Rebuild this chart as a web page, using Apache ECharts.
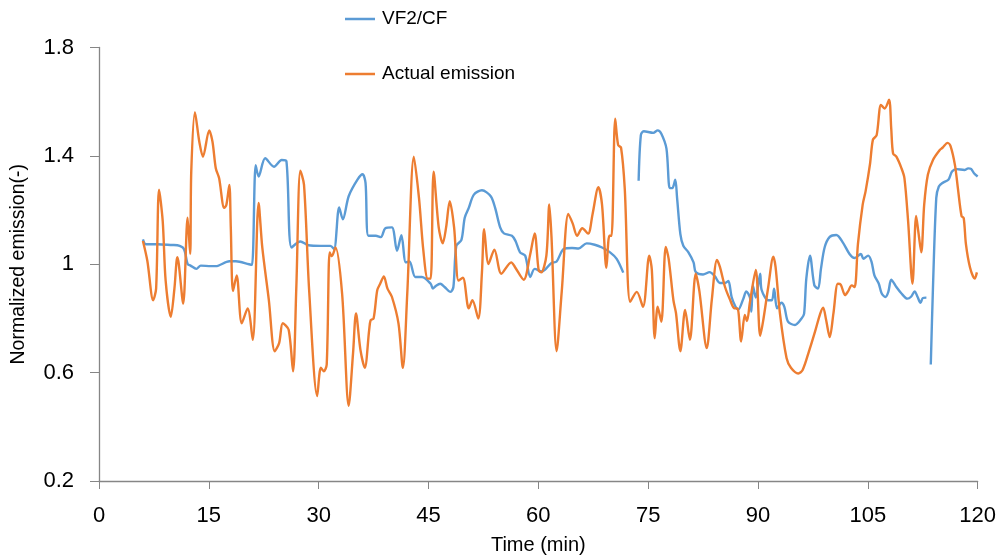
<!DOCTYPE html>
<html>
<head>
<meta charset="utf-8">
<script src="https://cdn.jsdelivr.net/npm/echarts@6/dist/echarts.min.js"></script>
<style>
  html, body { margin: 0; padding: 0; background: #ffffff; }
  #chart { width: 999px; height: 560px; }
</style>
</head>
<body>
<div id="chart"></div>
<script>
// Time axis ticks (min) and normalized emission ticks
const xTicks = [0, 15, 30, 45, 60, 75, 90, 105, 120];
const yTicks = [0.2, 0.6, 1, 1.4, 1.8];

// VF2/CF estimate; null marks a break in the record
const vfTime = [
  6.0, 6.4, 8.0, 10.0, 10.7, 11.6, 12.1, 12.5, 13.3, 13.9, 15.3, 15.95, 17.8, 18.7, 20.5, 20.9,
  21.4, 21.8, 22.7, 23.9, 24.95, 25.6, 26.3, 27.5, 28.6, 30.3, 31.6, 32.1, 32.8, 33.3, 34.1, 35.3,
  36.0, 36.4, 36.8, 37.8, 38.5, 39.1, 40.0, 40.7, 41.3, 41.9, 42.4, 43.2, 44.1, 45.3, 45.6, 46.0,
  46.6, 47.2, 48.0, 48.4, 48.8, 49.5, 49.95, 50.5, 51.2, 52.3, 53.5, 54.1, 54.8, 55.3, 56.4, 56.9,
  57.5, 58.2, 58.9, 59.5, 60.5, 61.8, 62.5, 63.45, 64.6, 65.5, 66.6, 67.7, 68.7, 69.8, 70.7, 71.6,
  72.6,
  73.7, 74.0, 74.4, 75.7, 76.3, 76.8, 77.5, 77.95, 78.3, 78.7, 78.95, 79.4, 79.8, 80.5, 81.2, 81.5,
  82.5, 83.4, 84.1, 84.8, 85.5, 85.95, 86.4, 86.9, 87.3, 88.0, 88.4, 88.9, 89.1, 89.3, 89.7, 90.3,
  90.5, 91.4, 91.9, 92.2, 92.6, 93.2, 93.6, 94.1, 95.05, 95.95, 96.3, 96.6, 97.1, 97.7, 98.2, 98.6,
  99.1, 99.8, 100.7, 101.6, 102.5, 103.2, 104.05, 104.4, 105.05, 105.5, 105.9, 106.5, 106.9, 107.4,
  107.8, 108.2, 108.9, 109.6, 110.4, 110.9, 111.4, 111.8, 112.2, 112.5, 113.0,
  113.3,
  113.6, 113.9, 114.35, 114.7, 115.2, 116.0, 116.5, 117.1, 118.2, 118.7, 119.1, 119.5, 120.0
];
const vfValue = [
  1.092, 1.074, 1.074, 1.071, 1.07, 1.056, 1.001, 0.995, 0.983, 0.995, 0.993, 0.993, 1.011, 1.011, 1.0, 0.998,
  1.366, 1.324, 1.391, 1.36, 1.385, 1.38, 1.062, 1.084, 1.07, 1.068, 1.068, 1.056, 1.21, 1.166, 1.251, 1.312,
  1.332, 1.3, 1.105, 1.105, 1.1, 1.133, 1.136, 1.05, 1.107, 1.007, 1.01, 0.953, 0.953, 0.928, 0.91, 0.92,
  0.928, 0.916, 0.898, 0.916, 1.068, 1.09, 1.172, 1.208, 1.257, 1.273, 1.251, 1.208, 1.135, 1.114, 1.105, 1.085,
  1.044, 1.032, 0.953, 0.983, 0.973, 1.005, 1.01, 1.056, 1.06, 1.058, 1.077, 1.072, 1.062, 1.044, 1.02, 0.969,
  null,
  1.308, 1.476, 1.491, 1.485, 1.494, 1.482, 1.427, 1.281, 1.281, 1.312, 1.245, 1.111, 1.068, 1.044, 1.007, 0.971,
  0.962, 0.971, 0.956, 0.931, 0.931, 0.938, 0.879, 0.845, 0.833, 0.873, 0.9, 0.877, 0.825, 0.922, 0.877, 0.965,
  0.905, 0.867, 0.867, 0.91, 0.837, 0.858, 0.843, 0.788, 0.776, 0.8, 0.818, 0.947, 1.032, 0.922, 0.91, 0.983,
  1.062, 1.101, 1.108, 1.08, 1.038, 1.023, 1.038, 1.02, 1.032, 1.01, 0.959, 0.928, 0.892, 0.879,
  0.898, 0.943, 0.916, 0.892, 0.873, 0.88, 0.9, 0.879, 0.858, 0.875, 0.877,
  null,
  0.63, 0.916, 1.245, 1.287, 1.3, 1.312, 1.342, 1.351, 1.348, 1.354, 1.352, 1.336, 1.324
];

// Measured (actual) emission
const actualTime = [
  6.0, 6.6, 7.4, 7.8, 8.2, 8.7, 9.1, 9.8, 10.3, 10.7, 10.9, 11.5, 12.1, 12.45, 12.6, 13.1,
  13.7, 14.2, 15.05, 15.5, 15.95, 16.4, 17.1, 17.4, 17.8, 18.0, 18.3, 18.8, 19.5, 20.3, 21.0, 21.8,
  22.3, 23.2, 24.0, 24.6, 25.1, 25.9, 26.5, 26.95, 27.5, 28.0, 28.7, 29.8, 30.3, 30.7, 31.1, 31.5,
  31.8, 32.3, 33.2, 34.1, 34.7, 35.1, 35.7, 36.3, 36.9, 37.1, 37.5, 38.0, 38.4, 38.9, 39.4, 40.0,
  40.9, 41.5, 42.1, 43.0, 43.7, 44.3, 44.9, 45.3, 45.7, 46.4, 46.95, 47.4, 47.9, 48.5, 49.1, 49.7,
  50.5, 51.0, 51.8, 52.3, 52.6, 53.2, 54.0, 54.95, 56.3, 56.8, 58.0, 58.9, 59.5, 60.05, 60.4, 61.1,
  61.5, 61.8, 62.5, 63.2, 64.1, 64.7, 65.3, 66.0, 66.8, 67.4, 68.2, 68.7, 69.3, 69.7, 70.0, 70.5,
  70.9, 71.3, 71.8, 72.55, 73.45, 74.3, 75.15, 75.5, 75.9, 76.3, 76.8, 77.4, 77.8, 78.45, 78.8, 79.4,
  80.05, 80.7, 81.5, 82.0, 83.0, 83.7, 84.4, 84.8, 85.5, 86.2, 86.8, 87.2, 87.7, 88.2, 88.5, 88.9,
  89.7, 90.3, 90.7, 91.4, 92.1, 92.4, 93.0, 93.9, 94.5, 95.5, 96.1, 96.9, 97.8, 98.5, 98.9, 99.3,
  99.8, 100.3, 100.9, 101.3, 101.9, 102.3, 102.8, 103.2, 103.65, 104.3, 104.7, 105.3, 105.7, 106.2,
  106.8, 107.3, 107.9, 108.2, 108.45, 108.9, 109.6, 110.0, 110.5, 111.1, 111.6, 111.9, 112.3, 112.7,
  113.2, 113.9, 114.8, 115.2, 115.9, 116.3, 116.9, 117.3, 117.8, 118.1, 118.4, 118.95, 119.6, 119.9
];
const actualValue = [
  1.086, 1.013, 0.867, 0.91, 1.275, 1.16, 0.94, 0.806, 0.91, 1.026, 1.0, 0.855, 1.172, 1.038, 1.342, 1.561,
  1.452, 1.397, 1.494, 1.452, 1.354, 1.318, 1.208, 1.22, 1.293, 1.135, 0.901, 0.959, 0.782, 0.837, 0.721, 1.226,
  1.062, 0.867, 0.679, 0.709, 0.782, 0.758, 0.605, 0.916, 1.345, 1.293, 0.904, 0.514, 0.618, 0.605, 0.63, 1.044,
  1.03, 1.062, 0.892, 0.478, 0.673, 0.818, 0.685, 0.618, 0.758, 0.794, 0.8, 0.904, 0.928, 0.955, 0.91, 0.88,
  0.782, 0.618, 0.892, 1.397, 1.245, 1.05, 0.947, 0.947, 1.342, 1.135, 1.077, 1.135, 1.233, 1.135, 0.94, 0.95,
  0.837, 0.867, 0.8, 0.97, 1.129, 1.001, 1.054, 0.965, 1.007, 0.99, 0.943, 1.038, 1.114, 0.977, 0.97, 1.032,
  1.221, 1.1, 0.679, 0.9, 1.186, 1.15, 1.105, 1.133, 1.113, 1.184, 1.284, 1.22, 0.987, 1.105, 1.105, 1.537,
  1.44, 1.43, 1.281, 0.861, 0.898, 0.843, 1.032, 0.98, 0.727, 0.843, 0.788, 1.064, 1.02, 0.867, 0.82, 0.679,
  0.831, 0.721, 0.965, 0.9, 0.691, 0.87, 1.016, 0.99, 0.916, 0.868, 0.837, 0.837, 0.715, 0.813, 0.79, 0.86,
  0.979, 0.736, 0.79, 0.916, 1.028, 0.99, 0.818, 0.654, 0.618, 0.597, 0.61, 0.673, 0.752, 0.818, 0.84, 0.795,
  0.731, 0.818, 0.928, 0.925, 0.886, 0.9, 0.922, 0.916, 1.074, 1.22, 1.27, 1.37, 1.46, 1.476,
  1.588, 1.575, 1.607, 1.5, 1.409, 1.397, 1.354, 1.318, 1.16, 0.928, 1.178, 1.12, 1.044, 1.22,
  1.33, 1.385, 1.421, 1.43, 1.448, 1.436, 1.366, 1.281, 1.178, 1.17, 1.074, 0.989, 0.947, 0.97
];

const seriesNames = ['VF2/CF', 'Actual emission'];
const seriesColors = ['#5B9BD5', '#ED7D31'];

function pairs(ts, vs) {
  return ts.map((t, i) => [t, vs[i] === null ? '-' : vs[i]]);
}

const font = 'Liberation Sans';
const axisGrey = '#868686';
const chart = echarts.init(document.getElementById('chart'), null, { renderer: 'canvas' });

chart.setOption({
  animation: false,
  backgroundColor: '#ffffff',
  textStyle: { fontFamily: font },
  grid: { left: 99, right: 21, top: 47.5, bottom: 75, containLabel: false },
  legend: {
    orient: 'vertical',
    left: 340,
    top: 4,
    icon: 'rect',
    itemWidth: 30,
    itemHeight: 2.5,
    itemGap: 35,
    data: seriesNames,
    textStyle: { fontFamily: font, fontSize: 19, color: '#000000', lineHeight: 20, padding: [0, 0, 0, 2] }
  },
  xAxis: {
    type: 'value',
    min: xTicks[0],
    max: xTicks[xTicks.length - 1],
    interval: xTicks[1] - xTicks[0],
    name: 'Time (min)',
    nameLocation: 'middle',
    nameGap: 54,
    nameTextStyle: { fontFamily: font, fontSize: 20, color: '#000000' },
    splitLine: { show: false },
    axisLine: { show: true, onZero: false, lineStyle: { color: axisGrey, width: 1.3 } },
    axisTick: { show: true, inside: false, length: 8, lineStyle: { color: axisGrey } },
    axisLabel: { fontFamily: font, fontSize: 22, color: '#000000', margin: 24 }
  },
  yAxis: {
    type: 'value',
    min: yTicks[0],
    max: yTicks[yTicks.length - 1],
    interval: 0.4,
    name: 'Normalized emission(-)',
    nameLocation: 'middle',
    nameRotate: 90,
    nameGap: 70,
    nameTextStyle: { fontFamily: font, fontSize: 19.5, color: '#000000' },
    splitLine: { show: false },
    axisLine: { show: true, lineStyle: { color: axisGrey, width: 1.3 } },
    axisTick: { show: true, inside: false, length: 9, lineStyle: { color: axisGrey } },
    axisLabel: {
      fontFamily: font, fontSize: 22, color: '#000000', margin: 25,
      formatter: v => String(Math.round(v * 10) / 10)
    }
  },
  series: [
    {
      name: seriesNames[0],
      type: 'line',
      data: pairs(vfTime, vfValue),
      smooth: 0.3,
      symbol: 'none',
      connectNulls: false,
      lineStyle: { color: seriesColors[0], width: 2.4 },
      itemStyle: { color: seriesColors[0] }
    },
    {
      name: seriesNames[1],
      type: 'line',
      data: pairs(actualTime, actualValue),
      smooth: 0.3,
      symbol: 'none',
      lineStyle: { color: seriesColors[1], width: 2.4 },
      itemStyle: { color: seriesColors[1] }
    }
  ]
});
</script>
</body>
</html>
